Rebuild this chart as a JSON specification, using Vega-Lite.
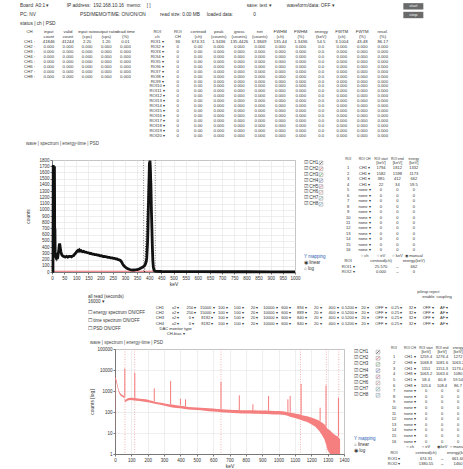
{
  "$schema": "https://vega.github.io/schema/vega-lite/v6.json",
  "background": "white",
  "padding": {"left": 20, "top": 2, "right": 0, "bottom": 0},
  "spacing": 2,
  "config": {
    "font": "Liberation Sans",
    "view": {"stroke": null},
    "axis": {"labelFontSize": 4.5, "titleFontSize": 5, "titleFontWeight": "normal", "labelColor": "#333", "titleColor": "#333", "gridColor": "#e2e2e2", "gridWidth": 0.6, "domainColor": "#777", "tickColor": "#777", "tickSize": 2, "labelPadding": 1, "titlePadding": 2},
    "text": {"fontSize": 4.3, "color": "#333"},
    "title": {"fontSize": 4.5, "fontWeight": "normal", "color": "#444", "anchor": "start", "frame": "bounds", "offset": 2}
  },
  "datasets": {
    "ctl": [
      {"r": 0, "c": 0, "t": "Board: A0:1 ▾"}, {"r": 0, "c": 7, "t": "IP address:"}, {"r": 0, "c": 11, "t": "192.168.10.16"}, {"r": 0, "c": 16, "t": "memo:"}, {"r": 0, "c": 19, "t": "[                                                   ]"}, {"r": 0, "c": 34, "t": "save: text ▾"}, {"r": 0, "c": 40, "t": "waveform/data: OFF ▾"},
      {"r": 1, "c": 0, "t": "PC: NV"}, {"r": 1, "c": 9, "t": "PSD/MEMO/TIME: ON/ON/ON"}, {"r": 1, "c": 21, "t": "read size: 0.00 MB"}, {"r": 1, "c": 28, "t": "loaded data:"}, {"r": 1, "c": 35, "t": "0"},
      {"r": 2, "c": 0, "t": "status  |  ch  |  PSD"}
    ],
    "btn": [{"r": 0, "c": 59, "t": "start"}, {"r": 1, "c": 59, "t": "stop"}],
    "ltab": [
      {"r": 0, "name": "CH", "a": "input", "b": "valid", "c": "input rate", "d": "output rate", "e": "dead time"},
      {"r": 1, "name": "", "a": "count", "b": "count", "c": "(cps)", "d": "(cps)", "e": "(%)"},
      {"r": 2, "name": "CH1 :", "a": "41846", "b": "41244", "c": "2.20", "d": "1.20", "e": "0.01"},
      {"r": 3, "name": "CH2 :", "a": "0.000", "b": "0.000", "c": "0.000", "d": "0.000", "e": "0.000"},
      {"r": 4, "name": "CH3 :", "a": "0.000", "b": "0.000", "c": "0.000", "d": "0.000", "e": "0.000"},
      {"r": 5, "name": "CH4 :", "a": "0.000", "b": "0.000", "c": "0.000", "d": "0.000", "e": "0.000"},
      {"r": 6, "name": "CH5 :", "a": "0.000", "b": "0.000", "c": "0.000", "d": "0.000", "e": "0.000"},
      {"r": 7, "name": "CH6 :", "a": "0.000", "b": "0.000", "c": "0.000", "d": "0.000", "e": "0.000"},
      {"r": 8, "name": "CH7 :", "a": "0.000", "b": "0.000", "c": "0.000", "d": "0.000", "e": "0.000"},
      {"r": 9, "name": "CH8 :", "a": "0.000", "b": "0.000", "c": "0.000", "d": "0.000", "e": "0.000"}
    ],
    "rtab": [
      {"r": 0, "name": "ROI", "c1": "ROI", "c2": "centroid", "c3": "peak", "c4": "gross", "c5": "net", "c6": "FWHM", "c7": "FWHM", "c8": "energy", "c9": "FWTM", "c10": "FWTM", "c11": "resol."},
      {"r": 1, "name": "ch", "c1": "CH", "c2": "(ch)", "c3": "(counts)", "c4": "(counts)", "c5": "(counts)", "c6": "(ch)", "c7": "(%)", "c8": "(keV)", "c9": "(ch)", "c10": "(%)", "c11": "(%)"},
      {"r": 2, "name": "ROI1 ▾", "c1": "36", "c2": "674.31", "c3": "1.3436", "c4": "135.4426", "c5": "1.3849", "c6": "135.44", "c7": "1.3436", "c8": "54.5", "c9": "3.1004", "c10": "43.48", "c11": "86.17"},
      {"r": 3, "name": "ROI2 ▾", "c1": "0", "c2": "0.00", "c3": "0.000", "c4": "0.000", "c5": "0.000", "c6": "0.000", "c7": "0.000", "c8": "0.0", "c9": "0.000", "c10": "0.000", "c11": "0.000"},
      {"r": 4, "name": "ROI3 ▾", "c1": "0", "c2": "0.00", "c3": "0.000", "c4": "0.000", "c5": "0.000", "c6": "0.000", "c7": "0.000", "c8": "0.0", "c9": "0.000", "c10": "0.000", "c11": "0.000"},
      {"r": 5, "name": "ROI4 ▾", "c1": "0", "c2": "0.00", "c3": "0.000", "c4": "0.000", "c5": "0.000", "c6": "0.000", "c7": "0.000", "c8": "0.0", "c9": "0.000", "c10": "0.000", "c11": "0.000"},
      {"r": 6, "name": "ROI5 ▾", "c1": "0", "c2": "0.00", "c3": "0.000", "c4": "0.000", "c5": "0.000", "c6": "0.000", "c7": "0.000", "c8": "0.0", "c9": "0.000", "c10": "0.000", "c11": "0.000"},
      {"r": 7, "name": "ROI6 ▾", "c1": "0", "c2": "0.00", "c3": "0.000", "c4": "0.000", "c5": "0.000", "c6": "0.000", "c7": "0.000", "c8": "0.0", "c9": "0.000", "c10": "0.000", "c11": "0.000"},
      {"r": 8, "name": "ROI7 ▾", "c1": "0", "c2": "0.00", "c3": "0.000", "c4": "0.000", "c5": "0.000", "c6": "0.000", "c7": "0.000", "c8": "0.0", "c9": "0.000", "c10": "0.000", "c11": "0.000"},
      {"r": 9, "name": "ROI8 ▾", "c1": "0", "c2": "0.00", "c3": "0.000", "c4": "0.000", "c5": "0.000", "c6": "0.000", "c7": "0.000", "c8": "0.0", "c9": "0.000", "c10": "0.000", "c11": "0.000"},
      {"r": 10, "name": "ROI9 ▾", "c1": "0", "c2": "0.00", "c3": "0.000", "c4": "0.000", "c5": "0.000", "c6": "0.000", "c7": "0.000", "c8": "0.0", "c9": "0.000", "c10": "0.000", "c11": "0.000"},
      {"r": 11, "name": "ROI10 ▾", "c1": "0", "c2": "0.00", "c3": "0.000", "c4": "0.000", "c5": "0.000", "c6": "0.000", "c7": "0.000", "c8": "0.0", "c9": "0.000", "c10": "0.000", "c11": "0.000"},
      {"r": 12, "name": "ROI11 ▾", "c1": "0", "c2": "0.00", "c3": "0.000", "c4": "0.000", "c5": "0.000", "c6": "0.000", "c7": "0.000", "c8": "0.0", "c9": "0.000", "c10": "0.000", "c11": "0.000"},
      {"r": 13, "name": "ROI12 ▾", "c1": "0", "c2": "0.00", "c3": "0.000", "c4": "0.000", "c5": "0.000", "c6": "0.000", "c7": "0.000", "c8": "0.0", "c9": "0.000", "c10": "0.000", "c11": "0.000"},
      {"r": 14, "name": "ROI13 ▾", "c1": "0", "c2": "0.00", "c3": "0.000", "c4": "0.000", "c5": "0.000", "c6": "0.000", "c7": "0.000", "c8": "0.0", "c9": "0.000", "c10": "0.000", "c11": "0.000"},
      {"r": 15, "name": "ROI14 ▾", "c1": "0", "c2": "0.00", "c3": "0.000", "c4": "0.000", "c5": "0.000", "c6": "0.000", "c7": "0.000", "c8": "0.0", "c9": "0.000", "c10": "0.000", "c11": "0.000"},
      {"r": 16, "name": "ROI15 ▾", "c1": "0", "c2": "0.00", "c3": "0.000", "c4": "0.000", "c5": "0.000", "c6": "0.000", "c7": "0.000", "c8": "0.0", "c9": "0.000", "c10": "0.000", "c11": "0.000"},
      {"r": 17, "name": "ROI16 ▾", "c1": "0", "c2": "0.00", "c3": "0.000", "c4": "0.000", "c5": "0.000", "c6": "0.000", "c7": "0.000", "c8": "0.0", "c9": "0.000", "c10": "0.000", "c11": "0.000"},
      {"r": 18, "name": "ROI17 ▾", "c1": "0", "c2": "0.00", "c3": "0.000", "c4": "0.000", "c5": "0.000", "c6": "0.000", "c7": "0.000", "c8": "0.0", "c9": "0.000", "c10": "0.000", "c11": "0.000"},
      {"r": 19, "name": "ROI18 ▾", "c1": "0", "c2": "0.00", "c3": "0.000", "c4": "0.000", "c5": "0.000", "c6": "0.000", "c7": "0.000", "c8": "0.0", "c9": "0.000", "c10": "0.000", "c11": "0.000"},
      {"r": 20, "name": "ROI19 ▾", "c1": "0", "c2": "0.00", "c3": "0.000", "c4": "0.000", "c5": "0.000", "c6": "0.000", "c7": "0.000", "c8": "0.0", "c9": "0.000", "c10": "0.000", "c11": "0.000"},
      {"r": 21, "name": "ROI20 ▾", "c1": "0", "c2": "0.00", "c3": "0.000", "c4": "0.000", "c5": "0.000", "c6": "0.000", "c7": "0.000", "c8": "0.0", "c9": "0.000", "c10": "0.000", "c11": "0.000"}
    ],
    "blk": [
      {"energy": 0, "counts": 0}, {"energy": 4, "counts": 10}, {"energy": 5, "counts": 1720}, {"energy": 6, "counts": 300}, {"energy": 7, "counts": 1100}, {"energy": 8, "counts": 1650}, {"energy": 9, "counts": 1300}, {"energy": 10, "counts": 1700}, {"energy": 10.5, "counts": 1350}, {"energy": 11, "counts": 600}, {"energy": 12, "counts": 700}, {"energy": 13, "counts": 300}, {"energy": 14, "counts": 260}, {"energy": 16, "counts": 240}, {"energy": 18, "counts": 255}, {"energy": 20, "counts": 232}, {"energy": 22, "counts": 252}, {"energy": 24, "counts": 245}, {"energy": 26, "counts": 300}, {"energy": 28, "counts": 360}, {"energy": 30, "counts": 430}, {"energy": 31.5, "counts": 457}, {"energy": 33, "counts": 420}, {"energy": 35, "counts": 360}, {"energy": 37, "counts": 320}, {"energy": 40, "counts": 280}, {"energy": 44, "counts": 258}, {"energy": 50, "counts": 245}, {"energy": 55, "counts": 242}, {"energy": 60, "counts": 252}, {"energy": 65, "counts": 238}, {"energy": 70, "counts": 250}, {"energy": 75, "counts": 252}, {"energy": 80, "counts": 244}, {"energy": 85, "counts": 258}, {"energy": 89, "counts": 263}, {"energy": 94, "counts": 290}, {"energy": 99, "counts": 312}, {"energy": 103, "counts": 335}, {"energy": 107, "counts": 349}, {"energy": 110, "counts": 338}, {"energy": 113, "counts": 352}, {"energy": 116, "counts": 336}, {"energy": 120, "counts": 342}, {"energy": 125, "counts": 326}, {"energy": 130, "counts": 334}, {"energy": 135, "counts": 320}, {"energy": 140, "counts": 320}, {"energy": 145, "counts": 310}, {"energy": 151, "counts": 308}, {"energy": 156, "counts": 298}, {"energy": 161, "counts": 300}, {"energy": 166, "counts": 288}, {"energy": 171, "counts": 287}, {"energy": 176, "counts": 280}, {"energy": 182, "counts": 278}, {"energy": 187, "counts": 272}, {"energy": 192, "counts": 270}, {"energy": 198, "counts": 260}, {"energy": 204, "counts": 262}, {"energy": 210, "counts": 250}, {"energy": 215, "counts": 252}, {"energy": 219, "counts": 245}, {"energy": 225, "counts": 242}, {"energy": 230, "counts": 236}, {"energy": 236, "counts": 234}, {"energy": 241, "counts": 228}, {"energy": 247, "counts": 228}, {"energy": 252, "counts": 220}, {"energy": 257, "counts": 220}, {"energy": 262, "counts": 212}, {"energy": 267, "counts": 210}, {"energy": 272, "counts": 200}, {"energy": 277, "counts": 196}, {"energy": 281, "counts": 186}, {"energy": 285, "counts": 170}, {"energy": 288, "counts": 150}, {"energy": 290, "counts": 134}, {"energy": 294, "counts": 110}, {"energy": 297, "counts": 95}, {"energy": 301, "counts": 81}, {"energy": 306, "counts": 65}, {"energy": 310, "counts": 55}, {"energy": 315, "counts": 48}, {"energy": 320, "counts": 40}, {"energy": 326, "counts": 35}, {"energy": 331, "counts": 32}, {"energy": 336, "counts": 32}, {"energy": 342, "counts": 35}, {"energy": 347, "counts": 37}, {"energy": 352, "counts": 40}, {"energy": 358, "counts": 48}, {"energy": 363, "counts": 58}, {"energy": 368, "counts": 68}, {"energy": 372, "counts": 75}, {"energy": 376, "counts": 85}, {"energy": 380, "counts": 100}, {"energy": 384, "counts": 124}, {"energy": 388, "counts": 170}, {"energy": 390, "counts": 231}, {"energy": 393, "counts": 450}, {"energy": 395, "counts": 715}, {"energy": 397, "counts": 1100}, {"energy": 399, "counts": 1413}, {"energy": 401, "counts": 1762}, {"energy": 402, "counts": 1600}, {"energy": 403, "counts": 1790}, {"energy": 404, "counts": 1735}, {"energy": 405, "counts": 1650}, {"energy": 406, "counts": 1500}, {"energy": 407, "counts": 1413}, {"energy": 409, "counts": 1000}, {"energy": 411, "counts": 715}, {"energy": 413, "counts": 400}, {"energy": 415, "counts": 177}, {"energy": 417, "counts": 80}, {"energy": 420, "counts": 27}, {"energy": 425, "counts": 15}, {"energy": 432, "counts": 11}, {"energy": 450, "counts": 8}, {"energy": 500, "counts": 6}, {"energy": 600, "counts": 5}, {"energy": 700, "counts": 4}, {"energy": 800, "counts": 4}, {"energy": 900, "counts": 3}, {"energy": 1000, "counts": 3}
    ],
    "tred": [{"energy": 6, "counts": 12}, {"energy": 418, "counts": 12}],
    "troiLines": [{"energy": 377}, {"energy": 425}],
    "tdots": [{"energy": 5, "e2": 5, "counts": 0, "hi": 1720}, {"energy": 381, "e2": 397, "counts": 0, "hi": 1500}],
    "leg": [
      {"r": 0, "ch": "CH1", "t": "☑ CH1"}, {"r": 1, "ch": "CH2", "t": "☑ CH2"}, {"r": 2, "ch": "CH3", "t": "☑ CH3"}, {"r": 3, "ch": "CH4", "t": "☑ CH4"},
      {"r": 4, "ch": "CH5", "t": "☑ CH5"}, {"r": 5, "ch": "CH6", "t": "☑ CH6"}, {"r": 6, "ch": "CH7", "t": "☑ CH7"}, {"r": 7, "ch": "CH8", "t": "☑ CH8"}
    ],
    "tymap": [{"r": 16, "t": "Y mapping"}, {"r": 17, "t": "◉ linear"}, {"r": 18, "t": "○ log"}],
    "bymap": [{"r": 14, "t": "Y mapping"}, {"r": 15, "t": "○ linear"}, {"r": 16, "t": "◉ log"}],
    "troi": [
      {"r": 0, "n": "", "ch": "", "start": "[keV]", "end": "[keV]", "energy": "[keV]"},
      {"r": 1, "n": "1", "ch": "CH1 ▾", "start": "1794", "end": "1812", "energy": "1332"},
      {"r": 2, "n": "2", "ch": "CH1 ▾", "start": "1582", "end": "1598", "energy": "1173"},
      {"r": 3, "n": "3", "ch": "CH1 ▾", "start": "385", "end": "412", "energy": "662"},
      {"r": 4, "n": "4", "ch": "CH1 ▾", "start": "22", "end": "34", "energy": "59.5"},
      {"r": 5, "n": "5", "ch": "none ▾", "start": "0", "end": "0", "energy": "0"},
      {"r": 6, "n": "6", "ch": "none ▾", "start": "0", "end": "0", "energy": "0"},
      {"r": 7, "n": "7", "ch": "none ▾", "start": "0", "end": "0", "energy": "0"},
      {"r": 8, "n": "8", "ch": "none ▾", "start": "0", "end": "0", "energy": "0"},
      {"r": 9, "n": "9", "ch": "none ▾", "start": "0", "end": "0", "energy": "0"},
      {"r": 10, "n": "10", "ch": "none ▾", "start": "0", "end": "0", "energy": "0"},
      {"r": 11, "n": "11", "ch": "none ▾", "start": "0", "end": "0", "energy": "0"},
      {"r": 12, "n": "12", "ch": "none ▾", "start": "0", "end": "0", "energy": "0"},
      {"r": 13, "n": "13", "ch": "none ▾", "start": "0", "end": "0", "energy": "0"},
      {"r": 14, "n": "14", "ch": "none ▾", "start": "0", "end": "0", "energy": "0"},
      {"r": 15, "n": "15", "ch": "none ▾", "start": "0", "end": "0", "energy": "0"},
      {"r": 16, "n": "16", "ch": "none ▾", "start": "0", "end": "0", "energy": "0"},
      {"r": 17, "n": "", "ch": "○ ch", "start": "○ eV", "end": "○ keV", "energy": "◉ manual"},
      {"r": 18, "n": "ROI", "ch": "", "start": "centroid(ch)", "end": "", "energy": "energy(keV)"},
      {"r": 19, "n": "ROI1 ▾", "ch": "", "start": "25.570", "end": "→", "energy": "662"},
      {"r": 20, "n": "ROI2 ▾", "ch": "", "start": "0.000", "end": "→", "energy": "0"}
    ],
    "broi": [
      {"r": 0, "n": "", "ch": "", "start": "[keV]", "end": "[keV]", "energy": "[keV]"},
      {"r": 1, "n": "1", "ch": "CH1 ▾", "start": "1259.4", "end": "1276.4", "energy": "1272"},
      {"r": 2, "n": "2", "ch": "CH8 ▾", "start": "1068.8", "end": "1081.6", "energy": "1063.2"},
      {"r": 3, "n": "3", "ch": "CH1 ▾", "start": "1151", "end": "1151.3", "energy": "1173.4"},
      {"r": 4, "n": "4", "ch": "CH8 ▾", "start": "1063.2", "end": "1063.6", "energy": "1080"},
      {"r": 5, "n": "5", "ch": "CH1 ▾", "start": "58.4", "end": "60.8", "energy": "59.54"},
      {"r": 6, "n": "6", "ch": "CH8 ▾", "start": "105.6", "end": "108.4", "energy": "86.7"},
      {"r": 7, "n": "7", "ch": "none ▾", "start": "0", "end": "0", "energy": "0"},
      {"r": 8, "n": "8", "ch": "none ▾", "start": "0", "end": "0", "energy": "0"},
      {"r": 9, "n": "9", "ch": "none ▾", "start": "0", "end": "0", "energy": "0"},
      {"r": 10, "n": "10", "ch": "none ▾", "start": "0", "end": "0", "energy": "0"},
      {"r": 11, "n": "11", "ch": "none ▾", "start": "0", "end": "0", "energy": "0"},
      {"r": 12, "n": "12", "ch": "none ▾", "start": "0", "end": "0", "energy": "0"},
      {"r": 13, "n": "13", "ch": "none ▾", "start": "0", "end": "0", "energy": "0"},
      {"r": 14, "n": "14", "ch": "none ▾", "start": "0", "end": "0", "energy": "0"},
      {"r": 15, "n": "15", "ch": "none ▾", "start": "0", "end": "0", "energy": "0"},
      {"r": 16, "n": "16", "ch": "none ▾", "start": "0", "end": "0", "energy": "0"},
      {"r": 17, "n": "", "ch": "○ ch", "start": "○ eV", "end": "◉ keV", "energy": "○ manual"},
      {"r": 18, "n": "ROI", "ch": "", "start": "centroid(ch)", "end": "", "energy": "energy(keV)"},
      {"r": 19, "n": "ROI1 ▾", "ch": "", "start": "674.31", "end": "→", "energy": "661.66"},
      {"r": 20, "n": "ROI2 ▾", "ch": "", "start": "1380.55", "end": "→", "energy": "1460"}
    ],
    "spl": [
      {"r": 1, "t": "all read (seconds)"}, {"r": 2, "t": "16000 ▾"}, {"r": 4, "t": "☐ energy spectrum ON/OFF"}, {"r": 5.5, "t": "☐ time spectrum ON/OFF"}, {"r": 7, "t": "☐ PSD ON/OFF"}
    ],
    "stab": [
      {"r": 0, "c17": "pileup reject"},
      {"r": 1, "c17": "enable", "c18": "coupling"},
      {"r": 3, "c0": "CH1", "c1": "x2 ▾", "c2": "250 ▾", "c3": "15000 ▾", "c4": "100 ▾", "c5": "100 ▾", "c6": "20 ▾", "c7": "10000 ▾", "c8": "600 ▾", "c9": "894 ▾", "c10": "20 ▾", "c11": "400 ▾", "c12": "0.5200 ▾", "c13": "20 ▾", "c14": "OFF ▾", "c15": "0.25 ▾", "c16": "32 ▾", "c17": "OFF ▾", "c18": "AF ▾"},
      {"r": 4, "c0": "CH2", "c1": "x2 ▾", "c2": "250 ▾", "c3": "15000 ▾", "c4": "100 ▾", "c5": "100 ▾", "c6": "20 ▾", "c7": "10000 ▾", "c8": "600 ▾", "c9": "889 ▾", "c10": "20 ▾", "c11": "400 ▾", "c12": "0.5200 ▾", "c13": "20 ▾", "c14": "OFF ▾", "c15": "0.25 ▾", "c16": "32 ▾", "c17": "OFF ▾", "c18": "AF ▾"},
      {"r": 5, "c0": "CH3", "c1": "x2 ▾", "c2": "0 ▾", "c3": "8192 ▾", "c4": "100 ▾", "c5": "100 ▾", "c6": "20 ▾", "c7": "10000 ▾", "c8": "600 ▾", "c9": "840 ▾", "c10": "20 ▾", "c11": "400 ▾", "c12": "0.5200 ▾", "c13": "20 ▾", "c14": "OFF ▾", "c15": "0.25 ▾", "c16": "32 ▾", "c17": "OFF ▾", "c18": "AF ▾"},
      {"r": 6, "c0": "CH4", "c1": "x2 ▾", "c2": "0 ▾", "c3": "8192 ▾", "c4": "100 ▾", "c5": "100 ▾", "c6": "20 ▾", "c7": "10000 ▾", "c8": "600 ▾", "c9": "840 ▾", "c10": "20 ▾", "c11": "400 ▾", "c12": "0.5200 ▾", "c13": "20 ▾", "c14": "OFF ▾", "c15": "0.25 ▾", "c16": "32 ▾", "c17": "OFF ▾", "c18": "AF ▾"},
      {"r": 7, "c1": "DAC monitor type"},
      {"r": 8, "c1": "CH-bias ▾"}
    ],
    "bband": [
      {"energy": 0.5, "lo": 1, "hi": 4300}, {"energy": 3, "lo": 3600, "hi": 4500}, {"energy": 6, "lo": 3000, "hi": 4000}, {"energy": 9, "lo": 2400, "hi": 3300}, {"energy": 12, "lo": 1900, "hi": 2600}, {"energy": 16, "lo": 1400, "hi": 1900}, {"energy": 20, "lo": 1050, "hi": 1400}, {"energy": 24, "lo": 850, "hi": 1100}, {"energy": 28, "lo": 700, "hi": 900}, {"energy": 33, "lo": 620, "hi": 780}, {"energy": 38, "lo": 570, "hi": 700}, {"energy": 43, "lo": 540, "hi": 660}, {"energy": 48, "lo": 510, "hi": 630}, {"energy": 53, "lo": 490, "hi": 600}, {"energy": 57, "lo": 470, "hi": 580}, {"energy": 60, "lo": 300, "hi": 380}, {"energy": 63, "lo": 290, "hi": 360}, {"energy": 68, "lo": 320, "hi": 400}, {"energy": 75, "lo": 340, "hi": 440}, {"energy": 85, "lo": 360, "hi": 470}, {"energy": 96, "lo": 370, "hi": 480}, {"energy": 106, "lo": 360, "hi": 480}, {"energy": 116, "lo": 350, "hi": 470}, {"energy": 130, "lo": 340, "hi": 450}, {"energy": 150, "lo": 330, "hi": 430}, {"energy": 170, "lo": 320, "hi": 420}, {"energy": 190, "lo": 300, "hi": 400}, {"energy": 210, "lo": 280, "hi": 360}, {"energy": 230, "lo": 260, "hi": 330}, {"energy": 250, "lo": 240, "hi": 300}, {"energy": 270, "lo": 225, "hi": 285}, {"energy": 290, "lo": 210, "hi": 265}, {"energy": 310, "lo": 195, "hi": 250}, {"energy": 330, "lo": 180, "hi": 235}, {"energy": 350, "lo": 165, "hi": 225}, {"energy": 375, "lo": 155, "hi": 210}, {"energy": 400, "lo": 150, "hi": 200}, {"energy": 425, "lo": 140, "hi": 190}, {"energy": 450, "lo": 132, "hi": 175}, {"energy": 475, "lo": 128, "hi": 168}, {"energy": 500, "lo": 124, "hi": 162}, {"energy": 525, "lo": 120, "hi": 158}, {"energy": 550, "lo": 115, "hi": 155}, {"energy": 575, "lo": 110, "hi": 150}, {"energy": 600, "lo": 106, "hi": 145}, {"energy": 625, "lo": 102, "hi": 140}, {"energy": 650, "lo": 98, "hi": 135}, {"energy": 675, "lo": 95, "hi": 130}, {"energy": 700, "lo": 92, "hi": 128}, {"energy": 725, "lo": 90, "hi": 126}, {"energy": 750, "lo": 88, "hi": 124}, {"energy": 775, "lo": 86, "hi": 122}, {"energy": 800, "lo": 85, "hi": 120}, {"energy": 825, "lo": 84, "hi": 120}, {"energy": 850, "lo": 83, "hi": 120}, {"energy": 875, "lo": 82, "hi": 119}, {"energy": 900, "lo": 81, "hi": 118}, {"energy": 925, "lo": 80, "hi": 117}, {"energy": 950, "lo": 79, "hi": 115}, {"energy": 975, "lo": 77, "hi": 113}, {"energy": 1000, "lo": 76, "hi": 112}, {"energy": 1025, "lo": 74, "hi": 108}, {"energy": 1050, "lo": 68, "hi": 100}, {"energy": 1075, "lo": 58, "hi": 92}, {"energy": 1100, "lo": 52, "hi": 86}, {"energy": 1125, "lo": 45, "hi": 78}, {"energy": 1150, "lo": 38, "hi": 68}, {"energy": 1175, "lo": 33, "hi": 62}, {"energy": 1200, "lo": 26, "hi": 54}, {"energy": 1225, "lo": 20, "hi": 46}, {"energy": 1250, "lo": 12, "hi": 38}, {"energy": 1265, "lo": 8, "hi": 32}, {"energy": 1280, "lo": 5, "hi": 26}, {"energy": 1290, "lo": 3, "hi": 20}, {"energy": 1300, "lo": 1.5, "hi": 16}, {"energy": 1315, "lo": 1, "hi": 13}, {"energy": 1330, "lo": 1, "hi": 10}, {"energy": 1345, "lo": 1, "hi": 8}, {"energy": 1360, "lo": 1, "hi": 7}, {"energy": 1376, "lo": 1, "hi": 5}
    ],
    "bspk": [
      {"energy": 60, "lo": 500, "peak": 11800}, {"energy": 121, "lo": 450, "peak": 7300}, {"energy": 240, "lo": 320, "peak": 1330}, {"energy": 340, "lo": 230, "peak": 2970}, {"energy": 400, "lo": 210, "peak": 430}, {"energy": 431, "lo": 190, "peak": 400}, {"energy": 648, "lo": 135, "peak": 2740}, {"energy": 760, "lo": 124, "peak": 620}, {"energy": 843, "lo": 120, "peak": 235}, {"energy": 939, "lo": 117, "peak": 580}, {"energy": 1057, "lo": 100, "peak": 400}, {"energy": 1071, "lo": 95, "peak": 580}, {"energy": 1138, "lo": 75, "peak": 2200}, {"energy": 1254, "lo": 38, "peak": 160}, {"energy": 1290, "lo": 20, "peak": 1840}, {"energy": 1366, "lo": 7, "peak": 480}
    ],
    "broiLines": [{"energy": 61}, {"energy": 120}, {"energy": 648}, {"energy": 1134}, {"energy": 1292}, {"energy": 1368}]
  },
  "vconcat": [
    {
      "spacing": 2,
      "vconcat": [
        {
          "width": 400, "height": 26,
          "encoding": {
            "x": {"field": "c", "type": "ordinal", "scale": {"type": "point", "domain": [0,1,2,3,4,5,6,7,8,9,10,11,12,13,14,15,16,17,18,19,20,21,22,23,24,25,26,27,28,29,30,31,32,33,34,35,36,37,38,39,40,41,42,43,44,45,46,47,48,49,50,51,52,53,54,55,56,57,58,59,60], "padding": 0}, "axis": null},
            "y": {"field": "r", "type": "ordinal", "scale": {"type": "point", "domain": [0,1,2], "padding": 0.5}, "axis": null}
          },
          "layer": [
            {"data": {"name": "ctl"}, "mark": {"type": "text", "align": "left", "fontSize": 4.8, "color": "#333"}, "encoding": {"text": {"field": "t"}}},
            {"data": {"name": "btn"}, "mark": {"type": "point", "shape": "M-1,-0.32H1V0.32H-1Z", "filled": true, "color": "#6a6a6a", "opacity": 1, "size": 400}},
            {"data": {"name": "btn"}, "mark": {"type": "text", "fontSize": 4.3, "color": "#f2f2f2"}, "encoding": {"text": {"field": "t"}}}
          ]
        },
        {
          "spacing": 12,
          "hconcat": [
            {
              "width": 115, "height": 49,
              "data": {"name": "ltab"},
              "transform": [{"fold": ["name","a","b","c","d","e"]}, {"filter": "isValid(datum.value)"}],
              "mark": {"type": "text"},
              "encoding": {
                "x": {"field": "key", "type": "nominal", "scale": {"type": "band", "domain": ["name","a","b","c","d","e"]}, "axis": null},
                "y": {"field": "r", "type": "ordinal", "scale": {"type": "band", "domain": [0,1,2,3,4,5,6,7,8,9]}, "axis": null},
                "text": {"field": "value"}
              }
            },
            {
              "width": 246, "height": 108,
              "data": {"name": "rtab"},
              "transform": [{"fold": ["name","c1","c2","c3","c4","c5","c6","c7","c8","c9","c10","c11"]}, {"filter": "isValid(datum.value)"}],
              "mark": {"type": "text"},
              "encoding": {
                "x": {"field": "key", "type": "nominal", "scale": {"type": "band", "domain": ["name","c1","c2","c3","c4","c5","c6","c7","c8","c9","c10","c11"]}, "axis": null},
                "y": {"field": "r", "type": "ordinal", "scale": {"type": "band", "domain": [0,1,2,3,4,5,6,7,8,9,10,11,12,13,14,15,16,17,18,19,20,21]}, "axis": null},
                "text": {"field": "value"}
              }
            }
          ]
        }
      ]
    },
    {
      "spacing": 2,
      "hconcat": [
        {"width": 3, "height": 112, "data": {"values": [{"t": ""}]}, "mark": {"type": "text"}, "encoding": {"text": {"field": "t"}}},
        {
          "width": 243, "height": 112,
          "view": {"stroke": "#9a9a9a"},
          "title": {"text": "wave  |  spectrum  |  energy-time  |  PSD", "offset": 10},
          "encoding": {
            "x": {"field": "energy", "type": "quantitative", "scale": {"domain": [0, 1000], "nice": false}, "axis": {"title": "keV", "values": [0,50,100,150,200,250,300,350,400,450,500,550,600,650,700,750,800,850,900,950,1000], "format": "d", "grid": true, "labelFlush": false}}
          },
          "layer": [
            {"data": {"name": "troiLines"}, "mark": {"type": "rule", "strokeDash": [1, 1.5], "color": "#666", "strokeWidth": 0.8}},
            {"data": {"name": "tred"}, "mark": {"type": "line", "color": "#e8686e", "strokeWidth": 1.2},
             "encoding": {"y": {"field": "counts", "type": "quantitative", "scale": {"domain": [0, 1800], "nice": false}, "axis": {"title": "counts", "titlePadding": 8, "values": [0,100,200,300,400,500,600,700,800,900,1000,1100,1200,1300,1400,1500,1600,1700,1800], "format": "d", "grid": true}}}},
            {"data": {"name": "blk"}, "mark": {"type": "line", "color": "#111", "strokeWidth": 2.8},
             "encoding": {"y": {"field": "counts", "type": "quantitative", "scale": {"domain": [0, 1800], "nice": false}, "axis": {"title": "counts", "titlePadding": 8, "values": [0,100,200,300,400,500,600,700,800,900,1000,1100,1200,1300,1400,1500,1600,1700,1800], "format": "d", "grid": true}}}},
            {"data": {"name": "tdots"}, "mark": {"type": "rule", "strokeDash": [1, 1.5], "color": "#111", "strokeWidth": 0.9},
             "encoding": {"x2": {"field": "e2"}, "y": {"field": "counts", "type": "quantitative", "scale": {"domain": [0, 1800], "nice": false}, "axis": {"title": "counts", "titlePadding": 8, "values": [0,100,200,300,400,500,600,700,800,900,1000,1100,1200,1300,1400,1500,1600,1700,1800], "format": "d", "grid": true}}, "y2": {"field": "hi"}}}
          ]
        },
        {
          "width": 34, "height": 112,
          "layer": [
            {"data": {"name": "leg"}, "mark": {"type": "text", "align": "left", "fontSize": 4.5},
             "encoding": {
               "x": {"datum": "label", "type": "nominal", "scale": {"type": "point", "domain": ["label","icon","gap"], "padding": 0}, "axis": null},
               "y": {"field": "r", "type": "ordinal", "scale": {"type": "point", "domain": [0,1,2,3,4,5,6,7,8,9,10,11,12,13,14,15,16,17,18], "padding": 0.5}, "axis": null},
               "text": {"field": "t"}}},
            {"data": {"name": "leg"}, "mark": {"type": "point", "shape": "square", "filled": false, "color": "#777", "size": 14, "strokeWidth": 0.6},
             "encoding": {"x": {"datum": "icon", "type": "nominal"}, "y": {"field": "r", "type": "ordinal"}}},
            {"data": {"name": "leg"}, "mark": {"type": "point", "shape": "M-0.7,0.7L0.7,-0.7", "filled": false, "size": 14, "strokeWidth": 0.9},
             "encoding": {"x": {"datum": "icon", "type": "nominal"}, "y": {"field": "r", "type": "ordinal"},
               "color": {"field": "ch", "type": "nominal", "scale": {"domain": ["CH1","CH2","CH3","CH4","CH5","CH6","CH7","CH8"], "range": ["#222222","#e03030","#30a030","#3040d0","#c03080","#e08080","#30a0a0","#40a0e0"]}, "legend": null}}},
            {"data": {"name": "tymap"}, "mark": {"type": "text", "align": "left", "fontSize": 4.5},
             "encoding": {"x": {"datum": "label", "type": "nominal"}, "y": {"field": "r", "type": "ordinal"}, "text": {"field": "t"},
               "color": {"condition": {"test": "datum.r == 16", "value": "#2a5db0"}, "value": "#333333"}}}
          ]
        },
        {
          "width": 82, "height": 115,
          "data": {"name": "troi"},
          "transform": [{"fold": ["n","ch","start","end","energy"]}, {"filter": "isValid(datum.value)"}],
          "mark": {"type": "text", "fontSize": 4.1},
          "encoding": {
            "x": {"field": "key", "type": "nominal", "scale": {"type": "band", "domain": ["n","ch","start","end","energy"]},
              "axis": {"orient": "top", "title": null, "domain": false, "ticks": false, "labelAngle": 0, "labelFontSize": 3.4, "labelOverlap": false, "labelPadding": 0,
                "labelExpr": "datum.label == 'n' ? 'ROI' : datum.label == 'ch' ? 'ROI CH' : datum.label == 'start' ? 'ROI start' : datum.label == 'end' ? 'ROI end' : 'energy'"}},
            "y": {"field": "r", "type": "ordinal", "scale": {"type": "band", "domain": [0,1,2,3,4,5,6,7,8,9,10,11,12,13,14,15,16,17,18,19,20]}, "axis": null},
            "text": {"field": "value"}
          }
        }
      ]
    },
    {
      "spacing": 4,
      "hconcat": [
        {"width": 64, "height": 48, "data": {"values": [{"t": ""}]}, "mark": {"type": "text"}, "encoding": {"text": {"field": "t"}}},
        {
          "width": 60, "height": 48,
          "data": {"name": "spl"},
          "mark": {"type": "text", "align": "left", "fontSize": 4.5},
          "encoding": {
            "x": {"datum": "a", "type": "nominal", "scale": {"type": "point", "domain": ["a","b"], "padding": 0}, "axis": null},
            "y": {"field": "r", "type": "quantitative", "scale": {"domain": [-0.5, 8.5], "reverse": true, "nice": false, "zero": false}, "axis": null},
            "text": {"field": "t"}
          }
        },
        {
          "width": 300, "height": 48,
          "data": {"name": "stab"},
          "transform": [{"fold": ["c0","c1","c2","c3","c4","c5","c6","c7","c8","c9","c10","c11","c12","c13","c14","c15","c16","c17","c18"]}, {"filter": "isValid(datum.value)"}],
          "mark": {"type": "text", "fontSize": 4.1},
          "encoding": {
            "x": {"field": "key", "type": "nominal", "scale": {"type": "band", "domain": ["c0","c1","c2","c3","c4","c5","c6","c7","c8","c9","c10","c11","c12","c13","c14","c15","c16","c17","c18"]}, "axis": null},
            "y": {"field": "r", "type": "ordinal", "scale": {"type": "point", "domain": [0,1,2,3,4,5,6,7,8], "padding": 0.5}, "axis": null},
            "text": {"field": "value"}
          }
        }
      ]
    },
    {
      "spacing": 4,
      "hconcat": [
        {"width": 65, "height": 105, "data": {"values": [{"t": ""}]}, "mark": {"type": "text"}, "encoding": {"text": {"field": "t"}}},
        {
          "width": 229, "height": 105,
          "view": {"stroke": "#9a9a9a"},
          "title": {"text": "wave  |  spectrum  |  energy-time  |  PSD"},
          "encoding": {
            "x": {"field": "energy", "type": "quantitative", "scale": {"domain": [0, 1400], "nice": false}, "axis": {"title": "keV", "values": [0,100,200,300,400,500,600,700,800,900,1000,1100,1200,1300,1400], "format": "d", "grid": true, "labelFlush": false}}
          },
          "layer": [
            {"data": {"name": "broiLines"}, "mark": {"type": "rule", "strokeDash": [1, 1.5], "color": "#f0a0a0", "strokeWidth": 0.8}},
            {"data": {"name": "bband"}, "mark": {"type": "area", "color": "#f57f7f", "opacity": 1},
             "encoding": {"y": {"field": "lo", "type": "quantitative", "scale": {"type": "log", "domain": [1, 100000]}, "axis": {"title": "counts [log]", "values": [1,10,100,1000,10000,100000], "format": "d", "grid": true}}, "y2": {"field": "hi"}}},
            {"data": {"name": "bspk"}, "mark": {"type": "rule", "color": "#f47a7a", "strokeWidth": 1},
             "encoding": {"y": {"field": "lo", "type": "quantitative", "scale": {"type": "log", "domain": [1, 100000]}, "axis": {"title": "counts [log]", "values": [1,10,100,1000,10000,100000], "format": "d", "grid": true}}, "y2": {"field": "peak"}}}
          ]
        },
        {
          "width": 24, "height": 105,
          "layer": [
            {"data": {"name": "leg"}, "mark": {"type": "text", "align": "left", "fontSize": 4.5},
             "encoding": {
               "x": {"datum": "label", "type": "nominal", "scale": {"type": "point", "domain": ["label","icon"], "padding": 0}, "axis": null},
               "y": {"field": "r", "type": "ordinal", "scale": {"type": "point", "domain": [0,1,2,3,4,5,6,7,8,9,10,11,12,13,14,15,16], "padding": 0.5}, "axis": null},
               "text": {"field": "t"}}},
            {"data": {"name": "leg"}, "mark": {"type": "point", "shape": "square", "filled": false, "color": "#777", "size": 14, "strokeWidth": 0.6},
             "encoding": {"x": {"datum": "icon", "type": "nominal"}, "y": {"field": "r", "type": "ordinal"}}},
            {"data": {"name": "leg"}, "mark": {"type": "point", "shape": "M-0.7,0.7L0.7,-0.7", "filled": false, "size": 14, "strokeWidth": 0.9},
             "encoding": {"x": {"datum": "icon", "type": "nominal"}, "y": {"field": "r", "type": "ordinal"},
               "color": {"field": "ch", "type": "nominal", "scale": {"domain": ["CH1","CH2","CH3","CH4","CH5","CH6","CH7","CH8"], "range": ["#222222","#e03030","#30a030","#3040d0","#c03080","#e08080","#30a0a0","#40a0e0"]}, "legend": null}}},
            {"data": {"name": "bymap"}, "mark": {"type": "text", "align": "left", "fontSize": 4.5},
             "encoding": {"x": {"datum": "label", "type": "nominal"}, "y": {"field": "r", "type": "ordinal"}, "text": {"field": "t"},
               "color": {"condition": {"test": "datum.r == 14", "value": "#2a5db0"}, "value": "#333333"}}}
          ]
        },
        {
          "width": 80, "height": 118,
          "data": {"name": "broi"},
          "transform": [{"fold": ["n","ch","start","end","energy"]}, {"filter": "isValid(datum.value)"}],
          "mark": {"type": "text", "fontSize": 4},
          "encoding": {
            "x": {"field": "key", "type": "nominal", "scale": {"type": "band", "domain": ["n","ch","start","end","energy"]},
              "axis": {"orient": "top", "title": null, "domain": false, "ticks": false, "labelAngle": 0, "labelFontSize": 3.4, "labelOverlap": false, "labelPadding": 0,
                "labelExpr": "datum.label == 'n' ? 'ROI' : datum.label == 'ch' ? 'ROI CH' : datum.label == 'start' ? 'ROI start' : datum.label == 'end' ? 'ROI end' : 'energy'"}},
            "y": {"field": "r", "type": "ordinal", "scale": {"type": "band", "domain": [0,1,2,3,4,5,6,7,8,9,10,11,12,13,14,15,16,17,18,19,20]}, "axis": null},
            "text": {"field": "value"}
          }
        }
      ]
    }
  ]
}
